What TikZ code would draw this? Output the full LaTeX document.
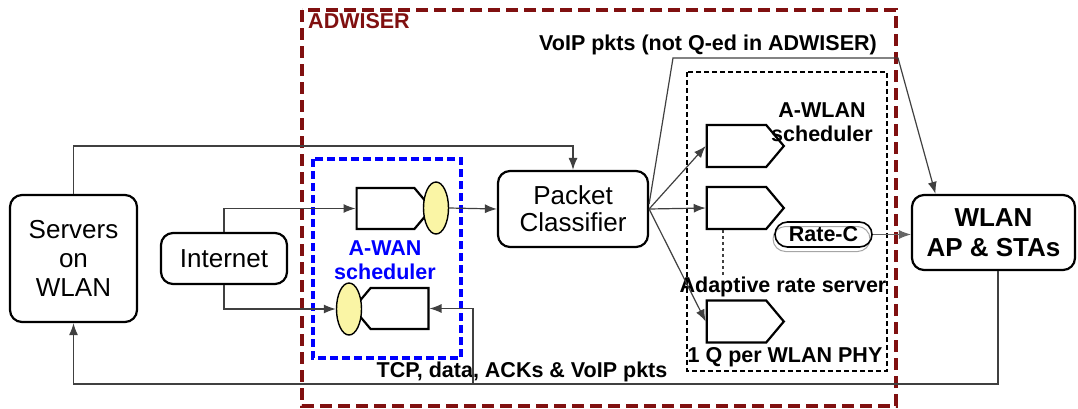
\documentclass[tikz,border=0pt]{standalone}
\usepackage{fontspec}
\setmainfont{Liberation Sans}
\usetikzlibrary{arrows.meta,shapes.geometric,shapes.symbols}
\definecolor{advred}{RGB}{128,16,16}
\definecolor{qyellow}{RGB}{250,245,165}
\newcommand{\boxfont}{\fontsize{26}{29}\selectfont}
\newcommand{\labfont}{\fontsize{21.5}{24}\selectfont\bfseries}

\tikzset{
  unit/.style={draw=black, line width=2.2pt, rounded corners=12pt, align=center,
    inner sep=0pt, font=\boxfont},
  queue/.style={signal, draw=black, line width=2.2pt, inner sep=0pt,
    minimum height=41pt, signal pointer angle=100},
  server/.style={ellipse, draw=black, line width=1.4pt, fill=qyellow,
    minimum width=25pt, minimum height=52pt, inner sep=0pt},
  label/.style={font=\labfont, align=center, inner sep=0pt},
  link/.style={draw=black!75, line width=1.2pt},
  flow/.style={link, -{Latex[length=12pt,width=9pt]}},
}

\begin{document}
\begin{tikzpicture}[x=1pt, y=-1pt]
    \useasboundingbox (0,0) rectangle (1078,408);

    % enclosing boxes
    \draw[advred, line width=4.2pt, dash pattern=on 12pt off 6pt] (302,10) rectangle (896,406);
    \draw[blue, line width=3.4pt, dash pattern=on 8pt off 4pt] (313,159) rectangle (461,358);
    \draw[black, line width=2.2pt, dash pattern=on 5pt off 3pt] (687,72) rectangle (887,371);

    % end points of the network
    \node[unit, minimum width=127pt, minimum height=127pt] (servers) at (73.5,258.5) {Servers\\on\\WLAN};
    \node[unit, minimum width=126pt, minimum height=51pt] (internet) at (224,258.5) {Internet};
    \node[unit, minimum width=150pt, minimum height=76pt, font=\fontsize{26}{27}\selectfont] (classifier) at (573,209) {Packet\\Classifier};
    \node[unit, minimum width=163pt, minimum height=75pt, font=\fontsize{26}{30}\selectfont\bfseries] (wlan) at (993.5,232.5) {WLAN\\AP \& STAs};

    % A-WAN queues
    \node[queue, signal to=east, minimum width=75pt] (upq) at (385.5,208.5) {};
    \node[server] (upsrv) at (436,208) {};
    \node[queue, signal to=west, minimum width=75pt] (downq) at (399.5,308.5) {};
    \node[server] (downsrv) at (349,309) {};

    % A-WLAN queues
    \node[queue, signal to=east, minimum width=77pt, minimum height=42pt] (q1) at (736.5,146) {};
    \node[queue, signal to=east, minimum width=77pt, minimum height=42pt] (q2) at (736.5,208) {};
    \node[queue, signal to=east, minimum width=77pt, minimum height=42pt] (q3) at (736.5,321.5) {};

    \node[draw=black!35, line width=1pt, rounded corners=12.5pt, minimum width=97pt, minimum height=25pt] (rateshade) at (821.5,239) {};
    \node[draw=black, line width=1.6pt, rounded corners=12.5pt, minimum width=97pt, minimum height=25pt, font=\labfont, inner sep=0pt] (ratec) at (823.5,234.5) {Rate-C};

    % labels
    \node[label, text=advred] (adwiser) at (359,21) {ADWISER};
    \node[label] (voiplab) at (708,45) {VoIP pkts (not Q-ed in ADWISER)};
    \node[label, text=blue] (awan) at (385,260) {A-WAN\\scheduler};
    \node[label] (awlan) at (822,122) {A-WLAN\\scheduler};
    \node[label] (rateserver) at (783,287) {Adaptive rate server};
    \node[label] (perphy) at (785,357) {1 Q per WLAN PHY};
    \node[label] (tcplab) at (522,372) {TCP, data, ACKs \& VoIP pkts};

    % connectors
    \draw[flow] (servers.north) -- (73.5,146) -| (classifier.north);
    \draw[flow] (internet.north) |- (upq.west);
    \draw[flow] (internet.south) |- (downsrv.west);
    \draw[flow] (upsrv.east) -- (classifier.west);
    \draw[flow] (classifier.east) -- (q1.west);
    \draw[flow] (classifier.east) -- (q2.west);
    \draw[flow] (classifier.east) -- (q3.west);
    \draw[link, dashed, line width=1.6pt] ([xshift=-13.5pt]q2.south) -- ([xshift=-13.5pt]q2.south |- rateserver.north);

    \coordinate (voipup) at (673,58);
    \coordinate (voipend) at (898,58);
    \draw[flow] ([yshift=5pt]classifier.east) -- (voipup) -- (voipend) -- ([xshift=-58pt]wlan.north);
    \draw[flow, draw=black!60, line width=0.9pt] (ratec.east) -- (ratec.east -| wlan.west);

    \coordinate (backcorner) at (998,384);
    \coordinate (backjoin) at (473,384);
    \draw[flow] ([xshift=4.5pt]wlan.south) -- (backcorner) -- (servers.south |- backcorner) -- (servers.south);
    \draw[flow] (backjoin) |- (downq.east);
\end{tikzpicture}
\end{document}
